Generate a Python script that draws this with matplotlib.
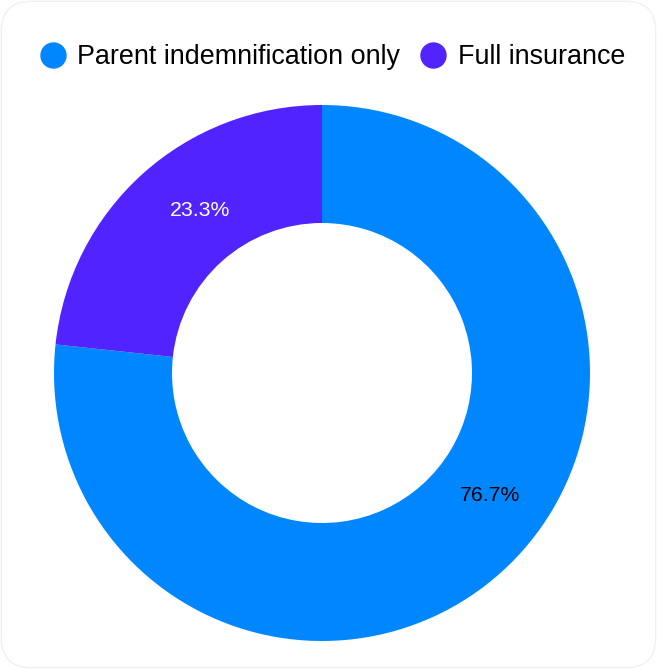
import matplotlib
matplotlib.use("Agg")
import matplotlib.pyplot as plt
import numpy as np
from matplotlib.lines import Line2D
from matplotlib.patches import FancyBboxPatch

plt.rcParams["font.family"] = ["Liberation Sans", "DejaVu Sans"]

# data
categories = ["Parent indemnification only", "Full insurance"]
shares = [76.7, 23.3]
colors = ["#0087FF", "#5123FF"]
label_colors = ["black", "white"]

W, H = 657, 669
fig = plt.figure(figsize=(W / 100, H / 100), dpi=100)
fig.patch.set_facecolor("white")

# card outline with rounded corners (behind everything)
card = FancyBboxPatch(
    (0.002, 0.002), 0.996, 0.996,
    boxstyle="round,pad=0,rounding_size=0.045",
    transform=fig.transFigure, facecolor="white",
    edgecolor="#F0F0F0", linewidth=1.0, zorder=-5,
)
fig.patches.append(card)

# axes in pixel units so the ring lands in the right place
ax = fig.add_axes([0, 0, 1, 1])
ax.patch.set_alpha(0)
cx, cy, r_out, r_in = 322, H - 373, 268, 150

wedges, _ = ax.pie(
    shares,
    colors=colors,
    startangle=90,
    counterclock=False,
    center=(cx, cy),
    radius=r_out,
    wedgeprops=dict(width=r_out - r_in, linewidth=0),
)

# percentage labels placed inside the ring
label_angles = [-36, 127]
label_radii = [208, 203]
for val, ang, rr, c in zip(shares, label_angles, label_radii, label_colors):
    a = np.deg2rad(ang)
    ax.text(cx + rr * np.cos(a), cy + rr * np.sin(a), f"{val}%",
            ha="center", va="center", fontsize=15.3, color=c)

ax.set_xlim(0, W)
ax.set_ylim(0, H)
ax.set_aspect("equal")
ax.axis("off")

handles = [
    Line2D([], [], marker="o", linestyle="none", markersize=18,
           markerfacecolor=c, markeredgecolor=c)
    for c in colors
]
fig.legend(
    handles, categories, loc="center", ncol=2,
    bbox_to_anchor=(332 / W, 1 - 57.5 / H),
    frameon=False, fontsize=19.4,
    handlelength=1.0, handletextpad=0.42, columnspacing=0.7,
    borderpad=0, borderaxespad=0,
)

fig.savefig("out.png", dpi=100)
